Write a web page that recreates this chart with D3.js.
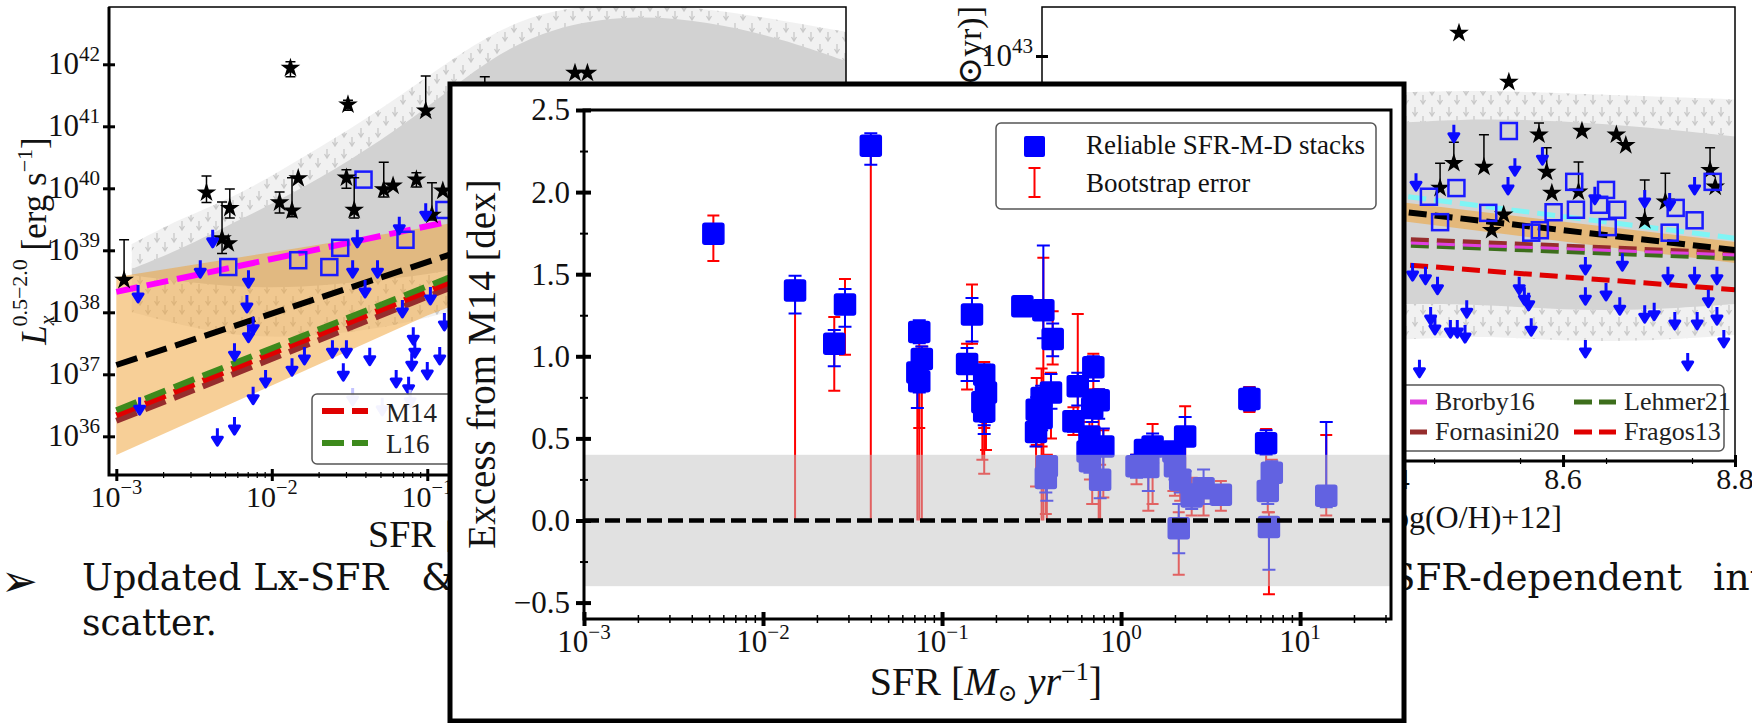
<!DOCTYPE html>
<html><head><meta charset="utf-8">
<script src="https://cdn.jsdelivr.net/npm/d3@7/dist/d3.min.js"></script>
<style>
html,body{margin:0;padding:0;background:#fff;overflow:hidden;}
svg{display:block;}
</style></head><body>
<svg id="c" width="1752" height="723" xmlns="http://www.w3.org/2000/svg"></svg>
<script>
/* ================= INSET: excess from M14 (main chart) ================= */
const stackSFR = [0.00528, 0.0151, 0.0250, 0.0287, 0.0400,
  0.0746, 0.0771, 0.0728, 0.0746,
  0.147, 0.138, 0.172, 0.176, 0.168, 0.172,
  0.281, 0.368, 0.415, 0.406, 0.360, 0.338, 0.360, 0.335, 0.385, 0.380,
  0.573, 0.542, 0.700, 0.750, 0.690, 0.666, 0.796, 0.650, 0.670, 0.764,
  1.22, 1.42, 1.50, 1.36, 1.96, 2.28, 2.00, 2.14, 2.48, 2.89, 3.61, 2.10,
  5.21, 6.46, 6.95, 6.60, 6.70, 14.0];
const stackExcess = [1.746, 1.40, 1.077, 1.315, 2.283,
  1.148, 0.984, 0.902, 0.848,
  1.254, 0.953, 0.888, 0.780, 0.720, 0.665,
  1.305, 1.280, 1.106, 0.780, 0.746, 0.675, 0.624, 0.539, 0.330, 0.258,
  0.817, 0.604, 0.933, 0.732, 0.685, 0.512, 0.451, 0.420, 0.360, 0.248,
  0.330, 0.325, 0.451, 0.430, 0.420, 0.512, 0.330, 0.248, 0.146, 0.197, 0.156, -0.047,
  0.740, 0.470, 0.290, 0.180, -0.040, 0.150];
const bootLo = [1.58, 0.0, 0.79, 1.01, 0.0,
  0.0, 0.0, 0.0, 0.563,
  1.077, 0.797, 0.563, 0.43, 0.37, 0.285,
  1.25, 0.0, 0.95, 0.50, 0.0, 0.46, 0.45, 0.207, 0.0, 0.04,
  0.56, 0.52, 0.80, 0.0, 0.10, 0.40, 0.14, 0.32, 0.25, 0.0,
  0.22, 0.06, 0.10, 0.33, 0.18, 0.10, 0.15, 0.12, 0.03, 0.03, 0.06, -0.33,
  0.66, 0.22, 0.20, 0.05, -0.45, 0.03];
const bootHi = [1.858, 1.46, 1.24, 1.47, 2.34,
  1.21, 1.06, 0.96, 0.92,
  1.437, 1.077, 0.965, 0.87, 0.78, 0.73,
  1.36, 1.60, 1.274, 0.90, 0.925, 0.868, 0.70, 0.60, 0.40, 0.30,
  1.258, 0.69, 1.016, 0.80, 0.76, 0.60, 0.55, 0.48, 0.40, 0.34,
  0.40, 0.45, 0.587, 0.48, 0.45, 0.695, 0.40, 0.30, 0.26, 0.25, 0.24, 0.05,
  0.813, 0.557, 0.37, 0.30, 0.05, 0.52];
const errLo = [1.70, 1.26, 0.94, 1.18, 2.167,
  1.08, 0.90, 0.685, 0.78,
  1.09, 0.85, 0.526, 0.60, 0.62, 0.58,
  1.25, 1.11, 1.00, 0.68, 0.66, 0.60, 0.55, 0.45, 0.12, 0.17,
  0.70, 0.54, 0.85, 0.62, 0.60, 0.45, 0.20, 0.36, 0.29, 0.136,
  0.26, 0.18, 0.35, 0.37, 0.36, 0.30, 0.25, 0.17, 0.07, 0.10, 0.10, -0.20,
  0.67, 0.40, 0.22, 0.10, -0.30, 0.08];
const errHi = [1.79, 1.49, 1.16, 1.41, 2.358,
  1.22, 1.06, 0.97, 0.90,
  1.355, 1.05, 0.95, 0.85, 0.78, 0.72,
  1.36, 1.675, 1.20, 0.892, 0.82, 0.75, 0.68, 0.60, 0.36, 0.30,
  0.90, 0.66, 1.00, 0.80, 0.75, 0.56, 0.56, 0.47, 0.42, 0.30,
  0.40, 0.40, 0.53, 0.47, 0.46, 0.63, 0.38, 0.30, 0.22, 0.31, 0.20, 0.10,
  0.81, 0.55, 0.36, 0.27, 0.00, 0.60];
const excessTicks = [-0.5, 0, 0.5, 1, 1.5, 2, 2.5];
const excessMinor = [-0.25, 0.25, 0.75, 1.25, 1.75, 2.25];
const sfrTickExp = [-3, -2, -1, 0, 1];
const scatterBand = [-0.4, 0.4];
const insetLegend = ["Reliable SFR-M-D stacks", "Bootstrap error"];

/* ================= LEFT background panel: Lx(0.5-2 keV) vs SFR (log10 values) ================= */
const leftYTickExp = [36, 37, 38, 39, 40, 41, 42];
const leftXTickExp = [-3, -2, -1, 0, 1];
const leftLineLogSFR = [-3, 1.7];
const leftLineBlack = [37.15, 41.05];
const leftLineMagenta = [38.33, 40.82];
const leftLineGreen = [36.42, 41.12];
const leftLineRed = [36.34, 41.04];
const leftLineBrown = [36.25, 40.95];
const leftBandLogSFR = [-3, -2, -1, 0, 1, 1.7];
const leftBandHi = [38.57, 38.97, 39.37, 39.80, 40.30, 40.60];
const leftBandLo = [35.70, 36.82, 37.95, 38.90, 39.80, 40.30];
const leftCloudLogSFR = [-2.9, -2.6, -2.2, -1.8, -1.4, -1.0, -0.6, -0.2, 0.3, 0.8, 1.3, 1.75];
const leftCloudHi = [38.7, 39.0, 39.5, 40.0, 40.6, 41.3, 42.1, 42.6, 42.8, 42.7, 42.4, 42.0];
const leftCloudLo = [38.6, 38.5, 38.4, 38.4, 38.5, 38.6, 38.8, 39.0, 39.2, 39.4, 39.6, 39.8];
const leftHaloHi = [39.1, 39.5, 39.9, 40.5, 41.1, 41.8, 42.5, 42.9, 43.0, 42.9, 42.7, 42.5];
const leftHaloLo = [38.0, 37.8, 37.6, 37.6, 37.7, 37.9, 38.2, 38.5, 38.8, 39.0, 39.3, 39.5];
const leftStarLogSFR = [-2.95,-1.88,-2.42,-2.32,-2.27,-2.28,-1.95,-1.87,-1.83,-1.51,-1.52,-1.47,-1.28,-1.22,-1.07,-1.01,-0.97,-0.90,-0.05,0.03,-0.63];
const leftStarLogLx = [38.52,41.94,39.93,39.19,39.68,39.11,39.77,39.64,40.16,41.35,40.17,39.65,39.98,40.04,40.14,41.25,39.57,39.96,41.86,41.86,41.30];
const leftStarLo = [38.52,41.80,39.77,38.95,39.52,39.11,39.60,39.54,40.16,41.26,40.00,39.52,39.86,40.04,40.02,41.19,39.49,39.96,41.86,41.86,41.30];
const leftStarHi = [39.17,42.04,40.20,39.78,39.99,39.11,39.94,40.17,40.16,41.42,40.30,40.17,40.42,40.04,40.25,41.81,40.09,39.96,41.86,41.86,41.80];
const leftSqLogSFR = [-1.41,-2.28,-1.83,-1.63,-1.56,-1.14,-0.89];
const leftSqLogLx = [40.14,38.73,38.84,38.73,39.04,39.17,39.65];
const leftLimLogSFR = [-2.38,-2.46,-2.86,-2.15,-2.16,-2.15,-2.12,-2.24,-2.12,-2.04,-2.35,-2.24,-2.85,-1.87,-1.79,-1.61,-1.52,-1.37,-1.54,-1.20,-1.12,-1.00,-0.92,-1.48,-1.45,-1.40,-1.32,-1.18,-1.01,-1.16,-1.09,-1.08,-1.10,-0.98,-0.89];
const leftLimLogLx = [39.33,38.84,38.44,38.68,38.28,37.80,37.93,37.50,36.80,37.07,36.13,36.31,36.63,37.26,37.44,37.55,37.55,37.43,37.18,37.07,36.96,37.20,37.44,38.84,39.33,38.52,38.84,39.54,39.76,38.20,37.76,37.55,37.34,38.41,37.99];
const leftFadedLogSFR = [-1.48, -1.29, -1.11];
const leftFadedLogLx = [36.78, 36.62, 36.75];
const leftLegend = ["M14", "L16"];

/* ================= RIGHT background panel: Lx/SFR vs metallicity ================= */
const rightXTicks = [8.0, 8.2, 8.4, 8.6, 8.8];
const rightYTickExp = [43];
const rightLineZ = [8.0, 8.8];
const rightLineBlack = [41.15, 39.87];
const rightLineCyan = [41.47, 40.06];
const rightLineBrown = [40.28, 39.82];
const rightLineGreen = [40.18, 39.74];
const rightLineMagenta = [40.20, 39.79];
const rightLineRed = [40.07, 39.23];
const rightBandZ = [8.0, 8.4, 8.8];
const rightBandHi = [41.35, 40.66, 40.00];
const rightBandLo = [40.95, 40.36, 39.66];
const rightCloudZ = [8.0, 8.2, 8.4, 8.5, 8.6, 8.7, 8.8];
const rightCloudHi = [41.8, 41.9, 41.9, 42.0, 41.95, 41.85, 41.7];
const rightCloudLo = [39.0, 39.0, 39.0, 39.0, 38.9, 38.9, 39.0];
const rightHaloHi = [42.3, 42.4, 42.4, 42.45, 42.4, 42.35, 42.3];
const rightHaloLo = [38.4, 38.4, 38.4, 38.5, 38.4, 38.4, 38.5];
const rightStarZ = [8.479,8.537,8.572,8.622,8.662,8.673,8.473,8.508,8.581,8.587,8.618,8.457,8.517,8.531,8.771,8.777,8.695,8.719];
const rightStarLog = [43.37,42.58,41.73,41.79,41.73,41.56,41.27,41.21,41.13,40.79,40.81,40.87,40.19,40.44,41.16,40.89,40.35,40.65];
const rightStarHi = [43.37,42.58,41.92,41.79,41.73,41.56,41.61,41.73,41.52,40.79,41.29,41.27,40.19,40.44,41.52,40.89,41.00,41.11];
const rightSqZ = [8.537,8.613,8.650,8.774,8.476,8.444,8.513,8.589,8.615,8.642,8.663,8.573,8.652,8.731,8.753,8.724,8.457,8.563];
const rightSqLog = [41.79,40.97,40.84,40.97,40.87,40.73,40.47,40.48,40.52,40.60,40.52,40.19,40.24,40.55,40.35,40.15,40.32,40.15];
const rightLimZ = [8.473,8.429,8.544,8.536,8.576,8.637,8.695,8.753,8.724,8.425,8.440,8.454,8.446,8.451,8.469,8.477,8.486,8.488,8.433,8.549,8.555,8.560,8.563,8.626,8.626,8.650,8.666,8.669,8.695,8.706,8.722,8.730,8.745,8.753,8.756,8.769,8.779,8.787,8.779,8.626];
const rightLimLog = [41.89,41.11,41.35,41.05,41.53,40.89,40.84,41.05,40.79,39.66,39.60,39.44,38.95,38.79,38.74,38.74,38.66,39.06,38.10,39.44,39.27,39.18,38.77,39.27,38.42,39.34,39.11,39.82,38.98,39.02,39.60,38.87,38.21,39.60,38.87,39.23,38.95,38.58,39.60,39.76];
const rightLegend = ["Brorby16", "Fornasini20", "Lehmer21", "Fragos13"];

/* ================= drawing ================= */
const SERIF = '"Liberation Serif","DejaVu Serif",serif';
const svg = d3.select('#c');
svg.append('rect').attr('width', 1752).attr('height', 723).attr('fill', '#fff');
const defs = svg.append('defs');
const pat = defs.append('pattern').attr('id', 'arrowTex').attr('patternUnits', 'userSpaceOnUse')
  .attr('width', 17).attr('height', 21);
pat.append('rect').attr('width', 17).attr('height', 21).attr('fill', '#f1f1f1');
[[4, 2], [12, 11]].forEach(([x, y]) => pat.append('path')
  .attr('d', `M${x},${y}V${y + 8}M${x - 2.5},${y + 5}L${x},${y + 9}L${x + 2.5},${y + 5}`)
  .attr('stroke', '#c9c9c9').attr('stroke-width', 1.3).attr('fill', 'none'));
const starSym = d3.symbol(d3.symbolStar, 120);

function powLabel(g, x, y, base, exp, fs, anchor) {
  const t = g.append('text').attr('x', x).attr('y', y).attr('font-size', fs)
    .attr('text-anchor', anchor).attr('font-family', SERIF).attr('fill', '#111');
  t.append('tspan').text(base);
  t.append('tspan').attr('font-size', fs * 0.68).attr('dy', -fs * 0.42).text(exp);
  return t;
}
const fmtExp = e => (e < 0 ? '\u2212' + (-e) : '' + e);

function limitArrows(g, pts, color) {
  g.selectAll(null).data(pts).join('path')
    .attr('d', d => `M${d[0]},${d[1]}V${d[1] + 11}M${d[0] - 5},${d[1] + 9}L${d[0]},${d[1] + 17}L${d[0] + 5},${d[1] + 9}Z`)
    .attr('stroke', color).attr('stroke-width', 3).attr('fill', color).attr('stroke-linejoin', 'round');
}

/* ---------- left panel ---------- */
(function () {
  const F = { l: 109, r: 846, t: 7, b: 475 };
  const lx = d3.scaleLog().domain([10 ** -3.047, 10 ** 1.693]).range([F.l, F.r]);
  const ly = d3.scaleLog().domain([10 ** 35.376, 10 ** 42.924]).range([F.b, F.t]);
  const X = v => lx(10 ** v), Y = v => ly(10 ** v);
  defs.append('clipPath').attr('id', 'clipL').append('rect')
    .attr('x', F.l).attr('y', F.t).attr('width', F.r - F.l).attr('height', F.b - F.t);
  const g = svg.append('g');
  const p = g.append('g').attr('clip-path', 'url(#clipL)');
  const areaS = d3.area().x(d => X(d[0])).y0(d => Y(d[1])).y1(d => Y(d[2])).curve(d3.curveBasis);
  const areaL = d3.area().x(d => X(d[0])).y0(d => Y(d[1])).y1(d => Y(d[2]));
  p.append('path').datum(leftCloudLogSFR.map((s, i) => [s, leftHaloLo[i], leftHaloHi[i]])).attr('d', areaS).attr('fill', 'url(#arrowTex)');
  p.append('path').datum(leftCloudLogSFR.map((s, i) => [s, leftCloudLo[i], leftCloudHi[i]])).attr('d', areaS).attr('fill', '#d2d2d2');
  p.append('path').datum(leftBandLogSFR.map((s, i) => [s, leftBandLo[i], leftBandHi[i]])).attr('d', areaL)
    .attr('fill', '#f0a030').attr('fill-opacity', 0.5);
  const line = d3.line().x(d => X(d[0])).y(d => Y(d[1]));
  [[leftLineBrown, '#962d2d'], [leftLineRed, '#e00000'], [leftLineGreen, '#3d8a1c'], [leftLineMagenta, '#ff00ff'], [leftLineBlack, '#000']]
    .forEach(([vals, col]) => {
      p.append('path').datum(leftLineLogSFR.map((s, i) => [s, vals[i]])).attr('d', line)
        .attr('stroke', col).attr('stroke-width', 6).attr('fill', 'none').attr('stroke-dasharray', '22,9');
    });
  p.selectAll(null).data(leftSqLogSFR.map((s, i) => [X(s), Y(leftSqLogLx[i])])).join('rect')
    .attr('x', d => d[0] - 8).attr('y', d => d[1] - 8).attr('width', 16).attr('height', 16)
    .attr('fill', 'none').attr('stroke', '#1a1aff').attr('stroke-width', 2.5);
  const st = leftStarLogSFR.map((s, i) => ({ x: X(s), y: Y(leftStarLogLx[i]), lo: Y(leftStarLo[i]), hi: Y(leftStarHi[i]) }));
  p.selectAll(null).data(st.filter(d => d.lo - d.hi > 1)).join('path')
    .attr('d', d => `M${d.x},${d.lo}V${d.hi}M${d.x - 5},${d.hi}H${d.x + 5}M${d.x - 5},${d.lo}H${d.x + 5}`)
    .attr('stroke', '#000').attr('stroke-width', 1.5).attr('fill', 'none');
  p.selectAll(null).data(st).join('path').attr('d', starSym)
    .attr('transform', d => `translate(${d.x},${d.y})`).attr('fill', '#000');
  limitArrows(p, leftLimLogSFR.map((s, i) => [X(s), Y(leftLimLogLx[i])]), '#0a0aff');
  limitArrows(p, leftFadedLogSFR.map((s, i) => [X(s), Y(leftFadedLogLx[i])]), '#c4c4ff');
  const lg = g.append('g');
  lg.append('rect').attr('x', 312).attr('y', 394).attr('width', 320).attr('height', 70).attr('rx', 5)
    .attr('fill', '#fff').attr('fill-opacity', 0.8).attr('stroke', '#555').attr('stroke-width', 1.5);
  [['#e00000', 411, 422], ['#3d8a1c', 443, 453]].forEach(([c, yy, yb], i) => {
    lg.append('line').attr('x1', 322).attr('x2', 368).attr('y1', yy).attr('y2', yy)
      .attr('stroke', c).attr('stroke-width', 6).attr('stroke-dasharray', '22,8');
    lg.append('text').attr('x', 386).attr('y', yb).attr('font-size', 27).attr('font-family', SERIF).attr('fill', '#222').text(leftLegend[i]);
  });
  g.append('rect').attr('x', F.l).attr('y', F.t).attr('width', F.r - F.l).attr('height', F.b - F.t)
    .attr('fill', 'none').attr('stroke', '#000').attr('stroke-width', 1.5);
  g.append('path').attr('d', `M${F.l},${F.t}V${F.b}H${F.r}`).attr('stroke', '#000').attr('stroke-width', 3).attr('fill', 'none');
  const ax = g.append('g').attr('transform', `translate(0,${F.b})`)
    .call(d3.axisBottom(lx).tickValues(leftXTickExp.map(e => 10 ** e)).tickSize(6).tickFormat(''));
  ax.select('.domain').remove();
  ax.selectAll('line').attr('y1', -6).attr('stroke-width', 3);
  const minorL = [];
  leftXTickExp.forEach(e => { for (let k = 2; k <= 9; k++) if (e + Math.log10(k) < 1.69) minorL.push(k * 10 ** e); });
  const axm = g.append('g').attr('transform', `translate(0,${F.b})`)
    .call(d3.axisBottom(lx).tickValues(minorL).tickSize(3).tickFormat(''));
  axm.select('.domain').remove();
  axm.selectAll('line').attr('y1', -3).attr('stroke-width', 1.2);
  leftXTickExp.forEach(e => powLabel(g, X(e), 507, '10', fmtExp(e), 30, 'middle'));
  const ay = g.append('g').attr('transform', `translate(${F.l},0)`)
    .call(d3.axisLeft(ly).tickValues(leftYTickExp.map(e => 10 ** e)).tickSize(6).tickFormat(''));
  ay.select('.domain').remove();
  ay.selectAll('line').attr('x1', 6).attr('stroke-width', 3);
  leftYTickExp.forEach(e => powLabel(g, 100, Y(e) + 10, '10', '' + e, 31, 'end'));
  const yt = g.append('text').attr('transform', 'translate(46,241) rotate(-90)').attr('text-anchor', 'middle')
    .attr('font-size', 35).attr('font-family', SERIF).attr('fill', '#111');
  yt.append('tspan').attr('font-style', 'italic').text('L');
  yt.append('tspan').attr('font-size', 22).attr('font-style', 'italic').attr('dy', 8).text('x');
  yt.append('tspan').attr('font-size', 22).attr('dx', -11).attr('dy', -27).text('0.5\u22122.0');
  yt.append('tspan').attr('dy', 19).text(' [erg s');
  yt.append('tspan').attr('font-size', 22).attr('dy', -14).text('\u22121');
  yt.append('tspan').attr('dy', 14).text(']');
  const xt = g.append('text').attr('x', 368).attr('y', 547).attr('font-size', 38).attr('font-family', SERIF).attr('fill', '#111');
  xt.append('tspan').text('SFR [');
  xt.append('tspan').attr('font-style', 'italic').text('M');
  xt.append('tspan').attr('font-size', 24).attr('dy', 6).text('\u2299');
  xt.append('tspan').attr('dy', -6).text(' ');
  xt.append('tspan').attr('font-style', 'italic').text('yr');
  xt.append('tspan').attr('font-size', 24).attr('dy', -14).text('\u22121');
  xt.append('tspan').attr('dy', 14).text(']');
})();

/* ---------- right panel ---------- */
(function () {
  const F = { l: 1042, r: 1735, t: 7, b: 461 };
  const rx = d3.scaleLinear().domain([7.994, 8.8]).range([F.l, F.r]);
  const ry = d3.scaleLog().domain([10 ** 36.468, 10 ** 43.79]).range([F.b, F.t]);
  const X = v => rx(v), Y = v => ry(10 ** v);
  defs.append('clipPath').attr('id', 'clipR').append('rect')
    .attr('x', F.l).attr('y', F.t).attr('width', F.r - F.l).attr('height', F.b - F.t);
  const g = svg.append('g');
  const p = g.append('g').attr('clip-path', 'url(#clipR)');
  const areaS = d3.area().x(d => X(d[0])).y0(d => Y(d[1])).y1(d => Y(d[2])).curve(d3.curveBasis);
  const areaL = d3.area().x(d => X(d[0])).y0(d => Y(d[1])).y1(d => Y(d[2]));
  p.append('path').datum(rightCloudZ.map((s, i) => [s, rightHaloLo[i], rightHaloHi[i]])).attr('d', areaS).attr('fill', 'url(#arrowTex)');
  p.append('path').datum(rightCloudZ.map((s, i) => [s, rightCloudLo[i], rightCloudHi[i]])).attr('d', areaS).attr('fill', '#d4d4d4');
  p.append('path').datum(rightBandZ.map((s, i) => [s, rightBandLo[i], rightBandHi[i]])).attr('d', areaL)
    .attr('fill', '#f0a030').attr('fill-opacity', 0.55);
  const line = d3.line().x(d => X(d[0])).y(d => Y(d[1]));
  [[rightLineRed, '#e00000', 5], [rightLineBrown, '#962d2d', 5], [rightLineGreen, '#3d6e1c', 5], [rightLineMagenta, '#e040e0', 3],
   [rightLineBlack, '#000', 6], [rightLineCyan, '#7ff5f5', 5]].forEach(([vals, col, w]) => {
    p.append('path').datum(rightLineZ.map((s, i) => [s, vals[i]])).attr('d', line)
      .attr('stroke', col).attr('stroke-width', w).attr('fill', 'none').attr('stroke-dasharray', '18,8');
  });
  const st = rightStarZ.map((s, i) => ({ x: X(s), y: Y(rightStarLog[i]), hi: Y(rightStarHi[i]) }));
  p.selectAll(null).data(st.filter(d => d.y - d.hi > 1)).join('path')
    .attr('d', d => `M${d.x},${d.y}V${d.hi}M${d.x - 5},${d.hi}H${d.x + 5}`)
    .attr('stroke', '#000').attr('stroke-width', 1.5).attr('fill', 'none');
  p.selectAll(null).data(st).join('path').attr('d', starSym)
    .attr('transform', d => `translate(${d.x},${d.y})`).attr('fill', '#000');
  p.selectAll(null).data(rightSqZ.map((s, i) => [X(s), Y(rightSqLog[i])])).join('rect')
    .attr('x', d => d[0] - 8).attr('y', d => d[1] - 8).attr('width', 16).attr('height', 16)
    .attr('fill', 'none').attr('stroke', '#1a1aff').attr('stroke-width', 2.5);
  limitArrows(p, rightLimZ.map((s, i) => [X(s), Y(rightLimLog[i])]), '#0a0aff');
  const lg = g.append('g');
  lg.append('rect').attr('x', 1100).attr('y', 385).attr('width', 624).attr('height', 66).attr('rx', 5)
    .attr('fill', '#fff').attr('fill-opacity', 0.85).attr('stroke', '#555').attr('stroke-width', 1.5);
  [['#e040e0', 1385, 402, 410], ['#962d2d', 1385, 432, 440], ['#3d6e1c', 1574, 402, 410], ['#e00000', 1574, 432, 440]]
    .forEach(([c, x0, yy, yb], i) => {
      lg.append('line').attr('x1', x0).attr('x2', x0 + 42).attr('y1', yy).attr('y2', yy)
        .attr('stroke', c).attr('stroke-width', 5).attr('stroke-dasharray', '18,7');
      lg.append('text').attr('x', x0 + 50).attr('y', yb).attr('font-size', 26).attr('font-family', SERIF).attr('fill', '#222').text(rightLegend[i]);
    });
  g.append('rect').attr('x', F.l).attr('y', F.t).attr('width', F.r - F.l).attr('height', F.b - F.t)
    .attr('fill', 'none').attr('stroke', '#000').attr('stroke-width', 1.5);
  g.append('path').attr('d', `M${F.l},${F.b}H${F.r}`).attr('stroke', '#000').attr('stroke-width', 3);
  const ax = g.append('g').attr('transform', `translate(0,${F.b})`)
    .call(d3.axisBottom(rx).tickValues(rightXTicks).tickSize(6).tickFormat(''));
  ax.select('.domain').remove();
  ax.selectAll('line').attr('y1', -6).attr('stroke-width', 3);
  const axm = g.append('g').attr('transform', `translate(0,${F.b})`)
    .call(d3.axisBottom(rx).tickValues(d3.range(8.05, 8.8, 0.1)).tickSize(3).tickFormat(''));
  axm.select('.domain').remove();
  axm.selectAll('line').attr('y1', -3).attr('stroke-width', 1.2);
  rightXTicks.forEach(v => g.append('text').attr('x', X(v)).attr('y', 489).attr('text-anchor', 'middle')
    .attr('font-size', 30).attr('font-family', SERIF).attr('fill', '#111').text(v.toFixed(1)));
  const ay = g.append('g').attr('transform', `translate(${F.l},0)`)
    .call(d3.axisLeft(ry).tickValues(rightYTickExp.map(e => 10 ** e)).tickSize(6).tickFormat(''));
  ay.select('.domain').remove();
  ay.selectAll('line').attr('x1', 6).attr('stroke-width', 3);
  rightYTickExp.forEach(e => powLabel(g, 1033, Y(e) + 10, '10', '' + e, 31, 'end'));
  g.append('text').attr('transform', 'translate(981,6) rotate(-90)').attr('text-anchor', 'end')
    .attr('font-size', 34).attr('font-family', SERIF).attr('fill', '#111')
    .text('L\u2093/SFR [erg s\u207B\u00B9/(M\u2299yr)]');
  g.append('text').attr('x', 1562).attr('y', 528).attr('text-anchor', 'end').attr('font-size', 32)
    .attr('font-family', SERIF).attr('fill', '#111').text('Z [log(O/H)+12]');
})();

/* ---------- slide text ---------- */
(function () {
  const g = svg.append('g').attr('font-family', '"DejaVu Serif",serif').attr('fill', '#111');
  g.append('text').attr('x', 1).attr('y', 596).attr('font-size', 44).attr('font-family', '"DejaVu Sans",sans-serif').text('\u27A2');
  g.append('text').attr('x', 82).attr('y', 590).attr('font-size', 38).attr('textLength', 306).attr('lengthAdjust', 'spacingAndGlyphs').text('Updated Lx-SFR');
  g.append('text').attr('x', 421).attr('y', 590).attr('font-size', 38).text('&');
  g.append('text').attr('x', 82).attr('y', 635).attr('font-size', 38).attr('textLength', 135).attr('lengthAdjust', 'spacingAndGlyphs').text('scatter.');
  g.append('text').attr('x', 1390).attr('y', 590).attr('font-size', 38).attr('textLength', 292).attr('lengthAdjust', 'spacingAndGlyphs').text('SFR-dependent');
  g.append('text').attr('x', 1713).attr('y', 590).attr('font-size', 38).text('intrinsic');
})();

/* ---------- inset chart ---------- */
(function () {
  const g = svg.append('g');
  g.append('rect').attr('x', 450).attr('y', 84).attr('width', 954).attr('height', 637)
    .attr('fill', '#fff').attr('stroke', '#000').attr('stroke-width', 5);
  const P = { l: 584, r: 1391, t: 110, b: 619 };
  const ix = d3.scaleLog().domain([1e-3, 32.2]).range([P.l, P.r]);
  const iy = d3.scaleLinear().domain([-0.6, 2.5]).range([P.b, P.t]);
  defs.append('clipPath').attr('id', 'clipI').append('rect')
    .attr('x', P.l).attr('y', P.t).attr('width', P.r - P.l).attr('height', P.b - P.t);
  const p = g.append('g').attr('clip-path', 'url(#clipI)');
  const pts = stackSFR.map((s, i) => ({ x: ix(s), y: iy(stackExcess[i]), rl: bootLo[i], rh: bootHi[i], bl: errLo[i], bh: errHi[i] }));
  p.selectAll(null).data(pts).join('path')
    .attr('d', d => {
      let s = `M${d.x},${iy(d.rl)}V${iy(d.rh)}M${d.x - 6},${iy(d.rh)}H${d.x + 6}`;
      if (d.rl !== 0) s += `M${d.x - 6},${iy(d.rl)}H${d.x + 6}`;
      return s;
    })
    .attr('stroke', '#ff0000').attr('stroke-width', 2).attr('fill', 'none');
  p.selectAll(null).data(pts).join('path')
    .attr('d', d => `M${d.x},${iy(d.bl)}V${iy(d.bh)}M${d.x - 6.5},${iy(d.bh)}H${d.x + 6.5}M${d.x - 6.5},${iy(d.bl)}H${d.x + 6.5}`)
    .attr('stroke', '#0000ff').attr('stroke-width', 2).attr('fill', 'none');
  p.selectAll(null).data(pts).join('rect')
    .attr('x', d => d.x - 10.5).attr('y', d => d.y - 10.5).attr('width', 21).attr('height', 21).attr('rx', 2)
    .attr('fill', '#0000ff').attr('stroke', '#0000ff').attr('stroke-width', 1.5);
  p.append('rect').attr('x', P.l).attr('width', P.r - P.l)
    .attr('y', iy(scatterBand[1])).attr('height', iy(scatterBand[0]) - iy(scatterBand[1]))
    .attr('fill', '#c4c4c4').attr('fill-opacity', 0.5);
  p.append('line').attr('x1', P.l).attr('x2', P.r).attr('y1', iy(0)).attr('y2', iy(0))
    .attr('stroke', '#000').attr('stroke-width', 4.5).attr('stroke-dasharray', '15,6');
  g.append('rect').attr('x', P.l).attr('y', P.t).attr('width', P.r - P.l).attr('height', P.b - P.t)
    .attr('fill', 'none').attr('stroke', '#000').attr('stroke-width', 3);
  const ay = g.append('g').attr('transform', `translate(${P.l},0)`)
    .call(d3.axisLeft(iy).tickValues(excessTicks).tickSize(8).tickPadding(6).tickFormat(d3.format('.1f')));
  ay.select('.domain').remove();
  ay.selectAll('line').attr('x1', 7).attr('stroke-width', 4);
  ay.selectAll('text').attr('font-size', 31).attr('font-family', SERIF).attr('fill', '#111');
  const aym = g.append('g').attr('transform', `translate(${P.l},0)`)
    .call(d3.axisLeft(iy).tickValues(excessMinor).tickSize(4).tickFormat(''));
  aym.select('.domain').remove();
  aym.selectAll('line').attr('x1', 4).attr('stroke-width', 2);
  const ax = g.append('g').attr('transform', `translate(0,${P.b})`)
    .call(d3.axisBottom(ix).tickValues(sfrTickExp.map(e => 10 ** e)).tickSize(7).tickFormat(''));
  ax.select('.domain').remove();
  ax.selectAll('line').attr('y1', -7).attr('stroke-width', 4);
  const minor = [];
  sfrTickExp.forEach(e => { for (let k = 2; k <= 9; k++) if (k * 10 ** e <= 32) minor.push(k * 10 ** e); });
  const axm = g.append('g').attr('transform', `translate(0,${P.b})`)
    .call(d3.axisBottom(ix).tickValues(minor).tickSize(4).tickFormat(''));
  axm.select('.domain').remove();
  axm.selectAll('line').attr('y1', -4).attr('stroke-width', 1.5);
  sfrTickExp.forEach(e => powLabel(g, ix(10 ** e), 652, '10', fmtExp(e), 31, 'middle'));
  g.append('text').attr('transform', 'translate(495,364) rotate(-90)').attr('text-anchor', 'middle')
    .attr('font-size', 39).attr('font-family', SERIF).attr('fill', '#111').text('Excess from M14 [dex]');
  const xt = g.append('text').attr('x', 986).attr('y', 695).attr('text-anchor', 'middle')
    .attr('font-size', 40).attr('font-family', SERIF).attr('fill', '#111');
  xt.append('tspan').text('SFR [');
  xt.append('tspan').attr('font-style', 'italic').text('M');
  xt.append('tspan').attr('font-size', 24).attr('dy', 6).text('\u2299');
  xt.append('tspan').attr('dy', -6).text(' ');
  xt.append('tspan').attr('font-style', 'italic').text('yr');
  xt.append('tspan').attr('font-size', 26).attr('dy', -15).text('\u22121');
  xt.append('tspan').attr('dy', 15).text(']');
  const lg = g.append('g');
  lg.append('rect').attr('x', 996).attr('y', 123).attr('width', 380).attr('height', 86).attr('rx', 5)
    .attr('fill', '#fff').attr('stroke', '#555').attr('stroke-width', 1.5);
  lg.append('rect').attr('x', 1024).attr('y', 136).attr('width', 21).attr('height', 21).attr('rx', 2).attr('fill', '#0000ff');
  lg.append('path').attr('d', 'M1034.5,168V197M1028.5,168H1040.5M1028.5,197H1040.5')
    .attr('stroke', '#ff0000').attr('stroke-width', 2).attr('fill', 'none');
  insetLegend.forEach((t, i) => lg.append('text').attr('x', 1086).attr('y', [154, 192][i]).attr('font-size', 27)
    .attr('font-family', SERIF).attr('fill', '#111').text(t));
})();
</script>
</body></html>
